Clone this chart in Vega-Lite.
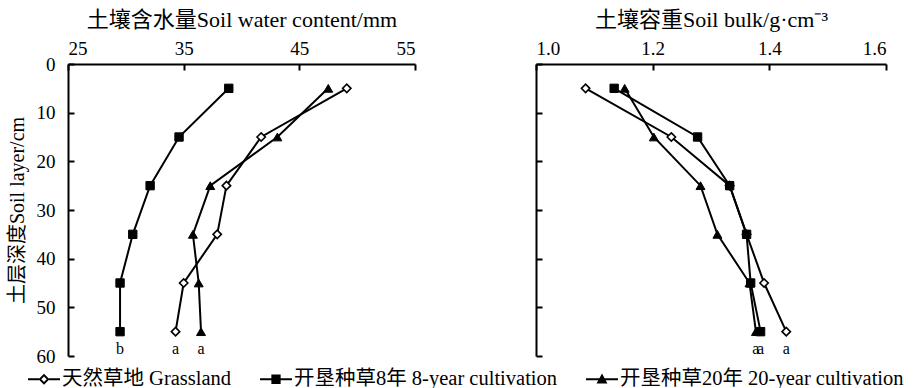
{
  "$schema": "https://vega.github.io/schema/vega-lite/v6.json",
  "background": "white",
  "padding": {"left": 7, "top": 8, "right": 5, "bottom": 5},
  "config": {
    "font": "Liberation Serif",
    "view": {"stroke": null},
    "style": {
      "guide-label": {"font": "Liberation Serif", "fill": "black"},
      "guide-title": {"font": "Liberation Serif, Noto Sans CJK SC", "fill": "black"}
    },
    "axis": {
      "grid": false,
      "domainColor": "black",
      "domainWidth": 2,
      "tickColor": "black",
      "tickWidth": 2,
      "tickSize": -6,
      "labelColor": "black",
      "labelFont": "Liberation Serif",
      "labelFontSize": 19,
      "titleColor": "black",
      "titleFont": "Liberation Serif, Noto Sans CJK SC",
      "titleFontWeight": "normal"
    },
    "legend": {
      "title": null,
      "orient": "none",
      "legendX": -41,
      "legendY": 298,
      "direction": "horizontal",
      "columns": 3,
      "columnPadding": 25,
      "labelFont": "Liberation Serif, Noto Sans CJK SC",
      "labelFontSize": 20.5,
      "labelColor": "black",
      "labelLimit": 0,
      "labelOffset": 1,
      "symbolSize": 1024,
      "symbolFillColor": "black",
      "symbolOpacity": 1
    }
  },
  "datasets": {
    "profiles": [
      {"panel": "water", "series": "G", "depth": 5, "value": 49.1},
      {"panel": "water", "series": "G", "depth": 15, "value": 41.7},
      {"panel": "water", "series": "G", "depth": 25, "value": 38.7},
      {"panel": "water", "series": "G", "depth": 35, "value": 37.9},
      {"panel": "water", "series": "G", "depth": 45, "value": 35.0},
      {"panel": "water", "series": "G", "depth": 55, "value": 34.3, "sig": "a"},
      {"panel": "water", "series": "C8", "depth": 5, "value": 38.9},
      {"panel": "water", "series": "C8", "depth": 15, "value": 34.6},
      {"panel": "water", "series": "C8", "depth": 25, "value": 32.1},
      {"panel": "water", "series": "C8", "depth": 35, "value": 30.6},
      {"panel": "water", "series": "C8", "depth": 45, "value": 29.5},
      {"panel": "water", "series": "C8", "depth": 55, "value": 29.5, "sig": "b"},
      {"panel": "water", "series": "C20", "depth": 5, "value": 47.5},
      {"panel": "water", "series": "C20", "depth": 15, "value": 43.1},
      {"panel": "water", "series": "C20", "depth": 25, "value": 37.3},
      {"panel": "water", "series": "C20", "depth": 35, "value": 35.8},
      {"panel": "water", "series": "C20", "depth": 45, "value": 36.3},
      {"panel": "water", "series": "C20", "depth": 55, "value": 36.5, "sig": "a"},
      {"panel": "bulk", "series": "G", "depth": 5, "value": 1.085},
      {"panel": "bulk", "series": "G", "depth": 15, "value": 1.232},
      {"panel": "bulk", "series": "G", "depth": 25, "value": 1.332},
      {"panel": "bulk", "series": "G", "depth": 35, "value": 1.361},
      {"panel": "bulk", "series": "G", "depth": 45, "value": 1.391},
      {"panel": "bulk", "series": "G", "depth": 55, "value": 1.429, "sig": "a"},
      {"panel": "bulk", "series": "C8", "depth": 5, "value": 1.134},
      {"panel": "bulk", "series": "C8", "depth": 15, "value": 1.277},
      {"panel": "bulk", "series": "C8", "depth": 25, "value": 1.332},
      {"panel": "bulk", "series": "C8", "depth": 35, "value": 1.361},
      {"panel": "bulk", "series": "C8", "depth": 45, "value": 1.368},
      {"panel": "bulk", "series": "C8", "depth": 55, "value": 1.385, "sig": "a"},
      {"panel": "bulk", "series": "C20", "depth": 5, "value": 1.152},
      {"panel": "bulk", "series": "C20", "depth": 15, "value": 1.202},
      {"panel": "bulk", "series": "C20", "depth": 25, "value": 1.282},
      {"panel": "bulk", "series": "C20", "depth": 35, "value": 1.311},
      {"panel": "bulk", "series": "C20", "depth": 45, "value": 1.366},
      {"panel": "bulk", "series": "C20", "depth": 55, "value": 1.377, "sig": "a"}
    ]
  },
  "data": {"name": "profiles"},
  "bounds": "flush",
  "spacing": 121,
  "hconcat": [
    {
      "width": 347,
      "height": 292,
      "transform": [{"filter": "datum.panel === 'water'"}],
      "encoding": {
        "x": {
          "field": "value",
          "type": "quantitative",
          "scale": {"domain": [25, 55], "nice": false, "zero": false},
          "axis": {"orient": "top", "values": [25, 35, 45, 55], "labelPadding": 12, "title": "土壤含水量Soil water content/mm", "titleFontSize": 22, "titlePadding": 8}
        },
        "y": {
          "field": "depth",
          "type": "quantitative",
          "scale": {"domain": [0, 60], "reverse": true, "nice": false},
          "axis": {"values": [0, 10, 20, 30, 40, 50, 60], "labelPadding": 19, "title": "土层深度Soil layer/cm", "titleFontSize": 20, "titlePadding": 9}
        }
      },
      "layer": [
        {
          "mark": {"type": "line", "color": "black", "strokeWidth": 2},
          "encoding": {"detail": {"field": "series"}, "order": {"field": "depth"}}
        },
        {
          "transform": [{"filter": "datum.series === 'G'"}],
          "mark": {"type": "point", "shape": "diamond", "filled": true, "fill": "white", "size": 70, "stroke": "black", "strokeWidth": 1.6, "opacity": 1}
        },
        {
          "transform": [{"filter": "datum.series === 'C8'"}],
          "mark": {"type": "point", "shape": "square", "filled": true, "fill": "black", "size": 70, "stroke": "black", "strokeWidth": 1, "opacity": 1}
        },
        {
          "transform": [{"filter": "datum.series === 'C20'"}],
          "mark": {"type": "point", "shape": "triangle-up", "filled": true, "fill": "black", "size": 80, "stroke": "black", "strokeWidth": 1, "opacity": 1}
        },
        {
          "transform": [{"filter": "datum.depth < 0"}],
          "mark": {"type": "point", "filled": true, "color": "black", "size": 1024, "opacity": 1},
          "encoding": {
            "shape": {
              "field": "series",
              "type": "nominal",
              "scale": {
                "domain": ["G", "C8", "C20"],
                "range": [
                  "M-1,-0.06H-0.31V0.06H-1ZM0.31,-0.06H1V0.06H0.31ZM0,-0.34L0.34,0L0,0.34L-0.34,0ZM0,-0.17L-0.17,0L0,0.17L0.17,0Z",
                  "M-1,-0.06H1V0.06H-1ZM-0.29,-0.29H0.29V0.29H-0.29Z",
                  "M-1,-0.06H1V0.06H-1ZM0,-0.36L0.34,0.26H-0.34Z"
                ]
              },
              "legend": {
                "labelExpr": "datum.value === 'G' ? '天然草地 Grassland' : datum.value === 'C8' ? '开垦种草8年 8-year cultivation' : '开垦种草20年 20-year cultivation'"
              }
            }
          }
        },
        {
          "transform": [{"filter": "datum.sig"}],
          "mark": {"type": "text", "dy": 17, "fontSize": 16, "color": "black", "font": "Liberation Serif"},
          "encoding": {"text": {"field": "sig"}}
        }
      ]
    },
    {
      "width": 350,
      "height": 292,
      "transform": [{"filter": "datum.panel === 'bulk'"}],
      "encoding": {
        "x": {
          "field": "value",
          "type": "quantitative",
          "scale": {"domain": [1.0, 1.6], "nice": false, "zero": false},
          "axis": {"orient": "top", "values": [1.0, 1.2, 1.4, 1.6], "format": ".1f", "labelPadding": 12, "title": "土壤容重Soil bulk/g·cm⁻³", "titleFontSize": 22, "titlePadding": 8}
        },
        "y": {
          "field": "depth",
          "type": "quantitative",
          "scale": {"domain": [0, 60], "reverse": true, "nice": false},
          "axis": {"values": [0, 10, 20, 30, 40, 50, 60], "labels": false, "title": null}
        }
      },
      "layer": [
        {
          "mark": {"type": "line", "color": "black", "strokeWidth": 2},
          "encoding": {"detail": {"field": "series"}, "order": {"field": "depth"}}
        },
        {
          "transform": [{"filter": "datum.series === 'G'"}],
          "mark": {"type": "point", "shape": "diamond", "filled": true, "fill": "white", "size": 70, "stroke": "black", "strokeWidth": 1.6, "opacity": 1}
        },
        {
          "transform": [{"filter": "datum.series === 'C8'"}],
          "mark": {"type": "point", "shape": "square", "filled": true, "fill": "black", "size": 70, "stroke": "black", "strokeWidth": 1, "opacity": 1}
        },
        {
          "transform": [{"filter": "datum.series === 'C20'"}],
          "mark": {"type": "point", "shape": "triangle-up", "filled": true, "fill": "black", "size": 80, "stroke": "black", "strokeWidth": 1, "opacity": 1}
        },
        {
          "transform": [{"filter": "datum.sig"}],
          "mark": {"type": "text", "dy": 17, "fontSize": 16, "color": "black", "font": "Liberation Serif"},
          "encoding": {"text": {"field": "sig"}}
        }
      ]
    }
  ]
}
